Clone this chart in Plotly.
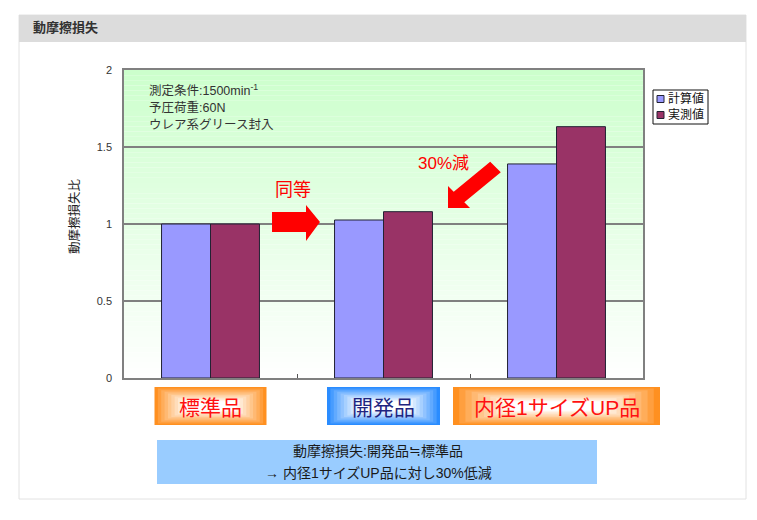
import plotly.graph_objects as go

# data
categories = ["標準品", "開発品", "内径1サイズUP品"]
calc_vals = [1.0, 1.026, 1.39]
meas_vals = [1.0, 1.08, 1.632]
series_names = ["計算値", "実測値"]
y_ticks = [0, 0.5, 1, 1.5, 2]
cond_lines = ["測定条件:1500min<sup>-1</sup>", "予圧荷重:60N", "ウレア系グリース封入"]
note_lines = ["動摩擦損失:開発品≒標準品", "→ 内径1サイズUP品に対し30%低減"]

SERIES_COLORS = ["#9999ff", "#993366"]

# page is 757x520, the html body adds an 8px margin
OFF = 8
W, H = 757 - OFF, 520 - OFF
PL, PR, PT, PB = 124, 643, 70, 378   # plot area in page pixels
FONT = "Liberation Sans, Noto Sans CJK JP, sans-serif"


def px(x):
    return (x - PL) / (PR - PL)


def py(y):
    return (PB - y) / (PB - PT)


def mix(c1, c2, t):
    r = [round(a + (b - a) * t) for a, b in zip(c1, c2)]
    return "rgb(%d,%d,%d)" % tuple(r)


def hex_rgb(h):
    h = h.lstrip("#")
    return [int(h[i:i + 2], 16) for i in (0, 2, 4)]


fig = go.Figure()
for name, vals, col in zip(series_names, [calc_vals, meas_vals], SERIES_COLORS):
    fig.add_trace(go.Bar(x=categories, y=vals, name=name,
                         marker=dict(color=col, line=dict(color="#222233", width=1))))

shapes = []
annotations = []

# panel + header
shapes.append(dict(type="rect", xref="paper", yref="paper", layer="below",
                   x0=px(19), x1=px(746), y0=py(499), y1=py(15),
                   line=dict(color="#e2e2e2", width=1), fillcolor="white"))
shapes.append(dict(type="rect", xref="paper", yref="paper", layer="below",
                   x0=px(19), x1=px(746), y0=py(42), y1=py(15),
                   line=dict(width=0), fillcolor="#dcdcdc"))

# plot background gradient green -> white
n = 60
green, white = [204, 255, 204], [255, 255, 255]
for i in range(n):
    shapes.append(dict(type="rect", xref="x domain", yref="y domain", layer="below",
                       x0=0, x1=1, y0=1 - (i + 1) / n, y1=1 - i / n,
                       line=dict(width=0), fillcolor=mix(green, white, (i + 0.5) / n)))


# red arrows
def path(pts):
    return "M " + " L ".join("%.4f,%.4f" % (px(a), py(b)) for a, b in pts) + " Z"


right_arrow = [(272, 212), (306, 212), (306, 205), (320, 222), (306, 241), (306, 232), (272, 232)]
diag_arrow = [(448, 208), (448, 186), (453.7, 191.7), (490.2, 161.7), (500.8, 172.3),
              (464.3, 202.3), (470, 208)]
for pts in (right_arrow, diag_arrow):
    shapes.append(dict(type="path", xref="paper", yref="paper", path=path(pts),
                       fillcolor="#ff0000", line=dict(width=0)))

# legend drawn by hand (plotly's own is too roomy)
shapes.append(dict(type="rect", xref="paper", yref="paper",
                   x0=px(653), x1=px(708), y0=py(124), y1=py(90),
                   line=dict(color="#111111", width=1), fillcolor="white"))
for j, (name, col) in enumerate(zip(series_names, SERIES_COLORS)):
    yc = 99 + j * 16
    shapes.append(dict(type="rect", xref="paper", yref="paper",
                       x0=px(657), x1=px(664), y0=py(yc + 3.5), y1=py(yc - 3.5),
                       line=dict(color="#222233", width=1), fillcolor=col))
    annotations.append(dict(xref="paper", yref="paper", x=px(666), y=py(yc),
                            text=name, showarrow=False, xanchor="left", yanchor="middle",
                            font=dict(size=12, color="#111111", family=FONT)))

# category label boxes (glow look with nested rects)
box_w = [112, 113, 207]
box_edge = ["#ff9020", "#2a8cff", "#ff9020"]
box_text = ["#ff1010", "#1f2580", "#ff1010"]
bt, bb = 387, 425
steps = 10
for i, cat in enumerate(categories):
    cx = PL + (i + 0.5) * (PR - PL) / len(categories)
    w = box_w[i]
    edge = hex_rgb(box_edge[i])
    for k in range(steps):
        dx = k * w * 0.3 / steps
        dy = k * (bb - bt) * 0.42 / steps
        shapes.append(dict(type="rect", xref="paper", yref="paper",
                           x0=px(cx - w / 2 + dx), x1=px(cx + w / 2 - dx),
                           y0=py(bb - dy), y1=py(bt + dy),
                           line=dict(width=0),
                           fillcolor=mix(edge, white, (k / (steps - 1)) ** 0.9)))
    annotations.append(dict(xref="paper", yref="paper", x=px(cx), y=py((bt + bb) / 2 + 1),
                            text=cat, showarrow=False, xanchor="center", yanchor="middle",
                            font=dict(size=21, color=box_text[i], family=FONT)))

# note box
shapes.append(dict(type="rect", xref="paper", yref="paper",
                   x0=px(157), x1=px(597), y0=py(484), y1=py(440),
                   line=dict(width=0), fillcolor="#99ccff"))
for j, line in enumerate(note_lines):
    annotations.append(dict(xref="paper", yref="paper", x=px(378), y=py(451 + j * 22),
                            text=line, showarrow=False, xanchor="center", yanchor="middle",
                            font=dict(size=14, color="#1a1a1a", family=FONT)))

# condition text
for j, line in enumerate(cond_lines):
    annotations.append(dict(xref="paper", yref="paper", x=px(147), y=py(90 + j * 17.5),
                            text=line, showarrow=False, xanchor="left", yanchor="middle",
                            font=dict(size=12.5, color="#333333", family=FONT)))

annotations += [
    dict(xref="paper", yref="paper", x=px(293), y=py(190), text="同等", showarrow=False,
         xanchor="center", yanchor="middle", font=dict(size=18, color="#ff0000", family=FONT)),
    dict(xref="paper", yref="paper", x=px(443), y=py(163), text="30%減", showarrow=False,
         xanchor="center", yanchor="middle", font=dict(size=17, color="#ff0000", family=FONT)),
    dict(xref="paper", yref="paper", x=px(31), y=py(28), text="<b>動摩擦損失</b>", showarrow=False,
         xanchor="left", yanchor="middle", font=dict(size=13, color="#333333", family=FONT)),
    dict(xref="paper", yref="paper", x=px(74), y=py(216), text="動摩擦損失比", showarrow=False,
         textangle=-90, xanchor="center", yanchor="middle",
         font=dict(size=12.5, color="#222222", family=FONT)),
]

fig.update_layout(
    width=W, height=H, autosize=False,
    margin=dict(l=PL - OFF, r=757 - PR, t=PT - OFF, b=520 - PB),
    paper_bgcolor="white",
    plot_bgcolor="rgba(0,0,0,0)",
    barmode="group",
    bargap=0.434,
    bargroupgap=0,
    showlegend=False,
    font=dict(family=FONT, color="#333333", size=11),
    shapes=shapes,
    annotations=annotations,
    xaxis=dict(showticklabels=False, ticks="inside", tickson="boundaries", ticklen=4,
               tickcolor="#555555", showline=True, linecolor="#808080", linewidth=1.5,
               mirror=True, showgrid=False, zeroline=False),
    yaxis=dict(range=[0, 2], tickvals=y_ticks, ticktext=[str(v) for v in y_ticks],
               showline=True, linecolor="#808080", linewidth=1.5, mirror=True,
               gridcolor="#808080", gridwidth=1.5, zeroline=False,
               ticklabelstandoff=8, tickfont=dict(size=11, color="#333333")),
)

fig.write_html("out.html")
